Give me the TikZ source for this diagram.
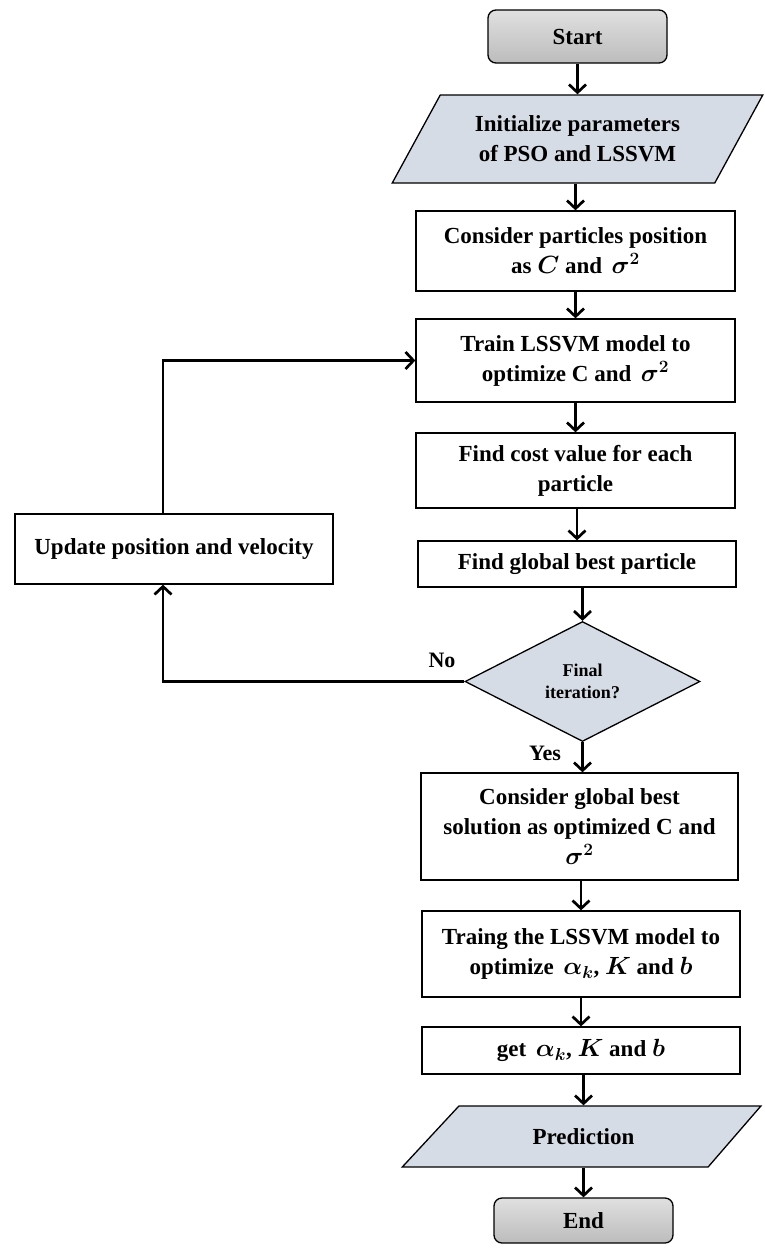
\documentclass[tikz,border=0pt]{standalone}
\usepackage{fontspec}
\setmainfont{Liberation Serif}
\usetikzlibrary{arrows.meta,shapes.geometric}
\definecolor{iofill}{RGB}{214,220,229}
\definecolor{termtop}{RGB}{224,224,224}
\definecolor{termbot}{RGB}{188,188,188}
\begin{document}
\begin{tikzpicture}[x=1pt,y=-1pt,
  txt/.style={align=center,font=\bfseries\boldmath\fontsize{23}{30}\selectfont,inner sep=2pt},
  box/.style={txt,draw,line width=1.3pt,rectangle},
  term/.style={txt,draw,line width=1.3pt,rectangle,rounded corners=8pt,top color=termtop,bottom color=termbot},
  io/.style={txt,draw,line width=1.3pt,trapezium,trapezium stretches=true,fill=iofill},
  decision/.style={draw,line width=1.3pt,diamond,aspect=2,fill=iofill,align=center,
    font=\bfseries\fontsize{18}{22}\selectfont,inner sep=0pt},
  lbl/.style={font=\bfseries\fontsize{22}{24}\selectfont,inner sep=0pt},
  arr/.style={line width=2.7pt,-{Straight Barb[length=8pt,width=17pt]}},
  conn/.style={line width=2.7pt}
]
\useasboundingbox (0,0) rectangle (765,1248);

\node[term,minimum width=179pt,minimum height=53pt] (start) at (577.5,36.5) {Start};
\node[io,minimum width=371pt,minimum height=88pt,trapezium left angle=54,trapezium right angle=126] (init) at (577.5,139) {Initialize parameters\\of PSO and LSSVM};
\node[box,minimum width=319pt,minimum height=80pt] (consider) at (575.5,251) {Consider particles position\\as $C$ and \,$\sigma^2$};
\node[box,minimum width=319pt,minimum height=83pt] (train) at (575.5,360.5) {Train LSSVM model to\\optimize C and \,$\sigma^2$};
\node[box,minimum width=319pt,minimum height=75pt] (cost) at (575.5,470.5) {Find cost value for each\\particle};
\node[box,minimum width=318pt,minimum height=46pt] (best) at (577,564) {Find global best particle};
\node[decision,minimum width=235pt,minimum height=120pt] (dec) at (582.5,681.5) {Final\\iteration?};
\node[box,minimum width=318pt,minimum height=70pt] (update) at (174,549) {Update position and velocity};
\node[box,minimum width=317pt,minimum height=107pt] (cglob) at (579.5,826.5) {Consider global best\\solution as optimized C and\\$\sigma^2$};
\node[box,minimum width=318pt,minimum height=86pt] (traing) at (581,954) {Traing the LSSVM model to\\optimize \,$\alpha_k$, $K$ and $b$};
\node[box,minimum width=318pt,minimum height=47pt] (get) at (581,1050.5) {get \,$\alpha_k$, $K$ and $b$};
\node[io,minimum width=359pt,minimum height=61pt,trapezium left angle=40,trapezium right angle=138] (pred) at (583.5,1136.5) {Prediction};
\node[term,minimum width=179pt,minimum height=45pt] (end) at (583.5,1220.5) {End};

\node[lbl] (no) at (442,660) {No};
\node[lbl] (yes) at (545,753) {Yes};

\draw[arr] (start.south) -- (start.south |- init.north);
\draw[arr] (consider.north |- init.south) -- (consider.north);
\draw[arr] (consider.south) -- (consider.south |- train.north);
\draw[arr] (train.south) -- (train.south |- cost.north);
\draw[arr] (best.north |- cost.south) -- (best.north);
\draw[arr] (dec.north |- best.south) -- (dec.north);
\draw[arr] (dec.south) -- (dec.south |- cglob.north);
\draw[arr] (traing.north |- cglob.south) -- (traing.north);
\draw[arr] (traing.south) -- (traing.south |- get.north);
\draw[arr] (pred.north |- get.south) -- (pred.north);
\draw[arr] (pred.south) -- (pred.south |- end.north);

\coordinate (lx) at (163,0);
\draw[arr] (dec.west) -| (lx |- update.south);
\draw[arr] (lx |- update.north) |- (train.west);
\end{tikzpicture}
\end{document}
